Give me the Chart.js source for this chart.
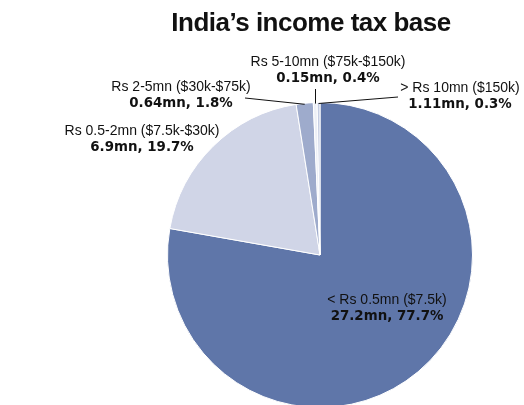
<!DOCTYPE html>
<html>
<head>
<meta charset="utf-8">
<script src="https://cdn.jsdelivr.net/npm/chart.js@4"></script>
<style>
  html, body { margin: 0; padding: 0; background: #fff; overflow: hidden; }
  #wrap { width: 524px; height: 405px; overflow: hidden; position: relative; }
</style>
</head>
<body>
<div id="wrap"><canvas id="mycanvas" width="524" height="410"></canvas></div>
<script>
// income brackets, taxpayers (mn) and share of base (%)
var brackets = ['< Rs 0.5mn ($7.5k)', 'Rs 0.5-2mn ($7.5k-$30k)', 'Rs 2-5mn ($30k-$75k)', 'Rs 5-10mn ($75k-$150k)', '> Rs 10mn ($150k)'];
var payers = ['27.2mn', '6.9mn', '0.64mn', '0.15mn', '1.11mn'];
var share = [77.7, 19.7, 1.8, 0.4, 0.3];
var colors = ['#5f76a9', '#d0d5e7', '#9eabcc', '#eceff6', '#c5cde2'];

var labelPlugin = {
	id: 'sliceLabels',
	afterDraw: function(chart){
		var ctx = chart.ctx;
		var arcs = chart.getDatasetMeta(0).data;
		ctx.save();
		ctx.fillStyle = '#111';
		ctx.textBaseline = 'middle';

		// title
		ctx.textAlign = 'center';
		ctx.font = 'bold 26px "Liberation Sans", Arial, sans-serif';
		ctx.letterSpacing = '-0.5px';
		ctx.fillText('India\u2019s income tax base', 311, 24);
		ctx.letterSpacing = '0px';

		function edge(i){
			var a = arcs[i];
			var m = (a.startAngle + a.endAngle) / 2;
			return {x: a.x + Math.cos(m) * a.outerRadius, y: a.y + Math.sin(m) * a.outerRadius};
		}
		function label(i, x, y){
			ctx.textAlign = 'center';
			ctx.font = '14px "Liberation Sans", Arial, sans-serif';
			ctx.fillText(brackets[i], x, y);
			ctx.font = 'bold 13.4px "DejaVu Sans", sans-serif';
			ctx.fillText(payers[i] + ', ' + share[i] + '%', x, y + 17);
		}
		function leader(i, x, y){
			var p = edge(i);
			ctx.beginPath();
			ctx.moveTo(x, y);
			ctx.lineTo(p.x, p.y + 1);
			ctx.strokeStyle = '#111';
			ctx.lineWidth = 1;
			ctx.stroke();
		}

		label(0, 387, 300);
		label(1, 142, 131);
		label(2, 181, 87);
		leader(2, 245, 98);
		label(3, 328, 62);
		var p3 = edge(3);
		ctx.beginPath();
		ctx.moveTo(Math.round(p3.x) + 0.5, 89);
		ctx.lineTo(Math.round(p3.x) + 0.5, p3.y + 1);
		ctx.stroke();
		label(4, 460, 88);
		leader(4, 398, 97);
		ctx.restore();
	}
};

var ctx = document.getElementById('mycanvas');
var pieChart = new Chart(ctx, {
	type: 'pie',
	data: {
		labels: brackets,
		datasets: [{
			data: share,
			backgroundColor: colors,
			borderColor: '#ffffff',
			borderWidth: 1
		}]
	},
	options: {
		responsive: false,
		animation: false,
		layout: { padding: { left: 167, right: 51, top: 102, bottom: 2 } },
		plugins: {
			legend: { display: false },
			tooltip: { enabled: false }
		}
	},
	plugins: [labelPlugin]
});
</script>
</body>
</html>
